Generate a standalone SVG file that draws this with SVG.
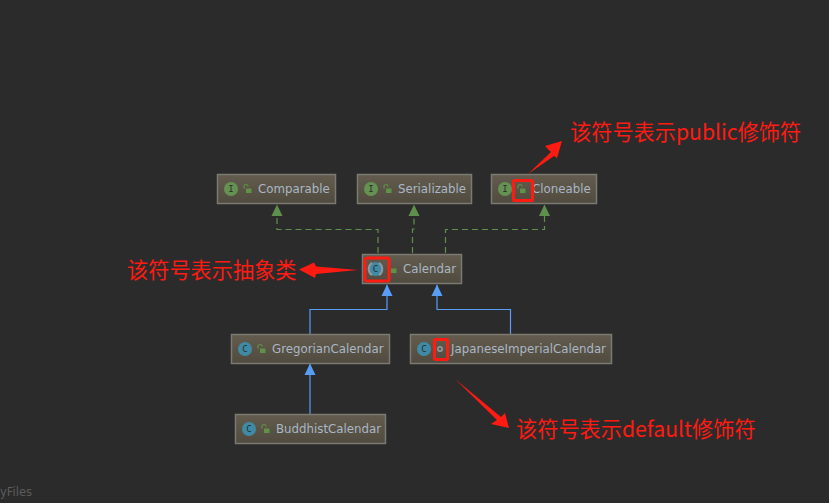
<svg xmlns="http://www.w3.org/2000/svg" width="829" height="503" viewBox="0 0 829 503">
<defs>
<linearGradient id="nodeFill" x1="0" y1="0" x2="0" y2="1"><stop offset="0" stop-color="#635c4e"/><stop offset="1" stop-color="#504b3f"/></linearGradient>
<marker id="triGreen" markerUnits="userSpaceOnUse" markerWidth="12" markerHeight="12" viewBox="0 0 12 12" refX="11" refY="6" orient="auto"><path d="M0 0.5L11.500 6L0 11.500Z" fill="#5f8f4d"/></marker>
<marker id="triBlue" markerUnits="userSpaceOnUse" markerWidth="12" markerHeight="12" viewBox="0 0 12 12" refX="11" refY="6" orient="auto"><path d="M0 0.500L11.500 6L0 11.500Z" fill="#589df6"/></marker>
</defs>
<style>
.n{fill:url(#nodeFill);stroke:#7a7a72;stroke-width:1.500}
.t{font:11.800px "DejaVu Sans",sans-serif;fill:#a9b7c6}
.ic{font:9px "DejaVu Sans Mono",monospace;text-anchor:middle}
.i{fill:#659252}.c{fill:#3f8ba6}
.lk{fill:#5f9148}.sh{fill:none;stroke:#5f9148;stroke-width:1.200}
.g{fill:none;stroke:#5f8f4d;stroke-width:1.200;stroke-dasharray:6 4}
.b{fill:none;stroke:#589df6;stroke-width:1.200}
.r{fill:none;stroke:#ff1a12;stroke-width:3}
.a{fill:#ff1a12}
.z{font:21.200px "Noto Sans CJK SC","Liberation Sans",sans-serif;fill:#ff1a12}
</style>
<rect id="background" width="829" height="503" fill="#2b2b2b"/>
<g id="connectors">
<path class="g" d="M378 253V229.500H277V205" marker-end="url(#triGreen)"/>
<path class="g" d="M412.500 253V229H414V205" marker-end="url(#triGreen)"/>
<path class="g" d="M445.500 253V229.500H544.500V205" marker-end="url(#triGreen)"/>
<path class="b" d="M310 334V309.500H387V285" marker-end="url(#triBlue)"/>
<path class="b" d="M510.500 334V309.500H437V285" marker-end="url(#triBlue)"/>
<path class="b" d="M310 414V364" marker-end="url(#triBlue)"/>
</g>
<g id="comparable"><rect class="n" x="217.500" y="174.500" width="118" height="29"/><circle class="i" cx="231" cy="189" r="7"/><text class="ic" x="231" y="192" fill="#2b2b2b">I</text><rect class="lk" x="246" y="188.500" width="5.500" height="4.500"/><path class="sh" d="M244 188.500V186.500a2 2 0 0 1 4 0"/><text class="t" x="258" y="193">Comparable</text></g>
<g id="serializable"><rect class="n" x="357.500" y="174.500" width="114" height="29"/><circle class="i" cx="371" cy="189" r="7"/><text class="ic" x="371" y="192" fill="#2b2b2b">I</text><rect class="lk" x="386" y="188.500" width="5.500" height="4.500"/><path class="sh" d="M384 188.500V186.500a2 2 0 0 1 4 0"/><text class="t" x="398" y="193">Serializable</text></g>
<g id="cloneable"><rect class="n" x="491.500" y="174.500" width="105" height="29"/><circle class="i" cx="505" cy="189" r="7"/><text class="ic" x="505" y="192" fill="#2b2b2b">I</text><rect class="lk" x="520" y="188.500" width="5.500" height="4.500"/><path class="sh" d="M518 188.500V186.500a2 2 0 0 1 4 0"/><text class="t" x="532" y="193">Cloneable</text></g>
<g id="calendar"><rect class="n" x="362.500" y="254.500" width="99" height="29"/><circle class="c" cx="375.500" cy="269" r="7"/><path d="M372 262.800a7.500 7.500 0 0 0 0 12.400M379 262.800a7.500 7.500 0 0 1 0 12.400" fill="none" stroke="#8a9aa0" stroke-width="2"/><text class="ic" x="375.500" y="272" fill="#2b2b2b">C</text><rect class="lk" x="391" y="268.500" width="5.500" height="4.500"/><text class="t" x="403" y="273">Calendar</text></g>
<g id="gregorian"><rect class="n" x="231.500" y="334.500" width="158" height="29"/><circle class="c" cx="245" cy="349" r="7"/><text class="ic" x="245" y="352" fill="#2b2b2b">C</text><rect class="lk" x="260" y="348.500" width="5.500" height="4.500"/><path class="sh" d="M258 348.500V346.500a2 2 0 0 1 4 0"/><text class="t" x="272" y="353">GregorianCalendar</text></g>
<g id="japanese"><rect class="n" x="410.500" y="334.500" width="201" height="29"/><circle class="c" cx="424" cy="349" r="7"/><text class="ic" x="424" y="352" fill="#2b2b2b">C</text><circle cx="440" cy="349" r="2.200" fill="#5a5a5a" stroke="#9a9a9a" stroke-width="1.500"/><text class="t" x="451" y="353">JapaneseImperialCalendar</text></g>
<g id="buddhist"><rect class="n" x="235.500" y="414.500" width="150" height="29"/><circle class="c" cx="249" cy="429" r="7"/><text class="ic" x="249" y="432" fill="#2b2b2b">C</text><rect class="lk" x="264" y="428.500" width="5.500" height="4.500"/><path class="sh" d="M262 428.500V426.500a2 2 0 0 1 4 0"/><text class="t" x="276" y="433">BuddhistCalendar</text></g>
<g id="annotations">
<rect class="r" x="513.500" y="180.500" width="19" height="20" rx="1"/>
<rect class="r" x="365" y="258" width="24" height="23" rx="2"/>
<rect class="r" x="434.500" y="339.500" width="13" height="20" rx="1"/>
<path class="a" d="M528 174L551 152L545 146L562 141L557 158L554 156Z"/>
<path class="a" d="M358 270L316 266.500L314 262.500L299 269.500L315 278L316 274Z"/>
<path class="a" d="M455 379L501 417L505 413L509 428L491 424L497 420Z"/>
<text class="z" x="570" y="140">该符号表示public修饰符</text>
<text class="z" x="127" y="278">该符号表示抽象类</text>
<text class="z" x="516" y="437">该符号表示default修饰符</text>
</g>
<text x="0" y="496" font-family="'DejaVu Sans',sans-serif" font-size="11.500" fill="#5c5c5c">yFiles</text>
</svg>
